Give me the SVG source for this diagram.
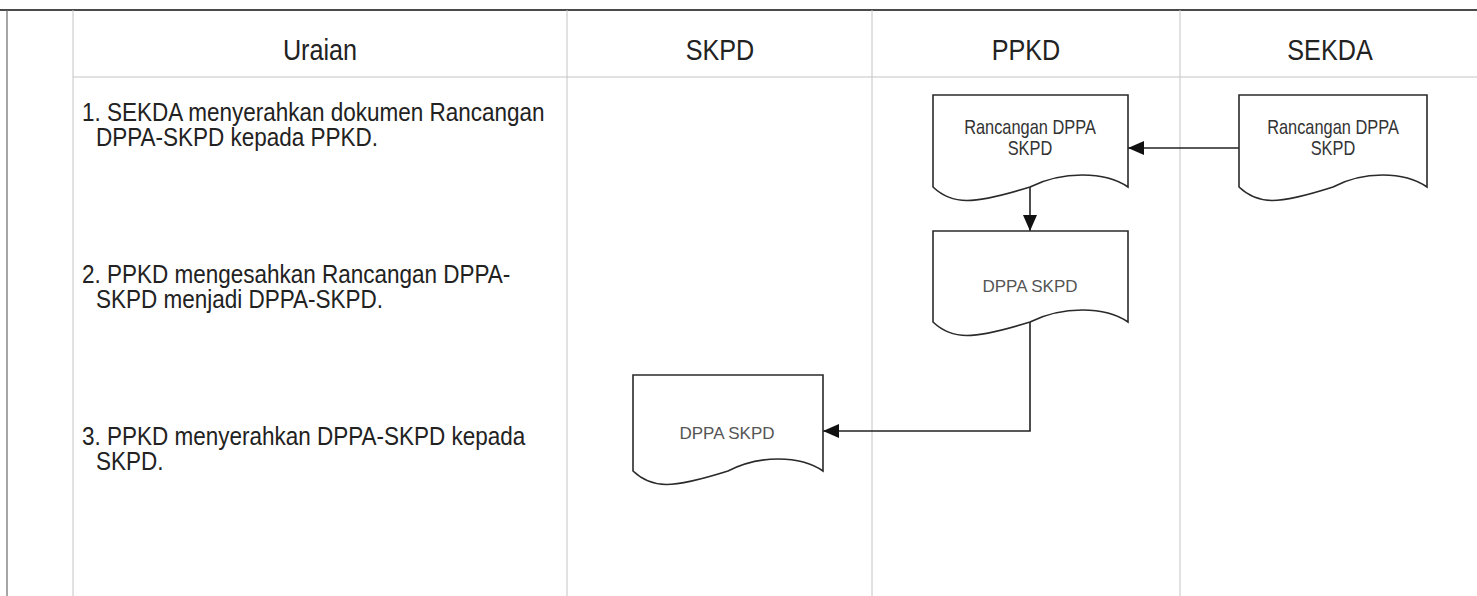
<svg xmlns="http://www.w3.org/2000/svg" width="1477" height="596" viewBox="0 0 1477 596">
<defs>
<style>
.grid{stroke:#c4c4c4;stroke-width:1;fill:none}
.border{stroke:#6a6a6a;stroke-width:1.2;fill:none}
.top{stroke:#4a4a4a;stroke-width:2.2;fill:none}
.hdr{font-family:"Liberation Sans",Arial,sans-serif;font-size:30px;fill:#222;text-anchor:middle}
.step{font-family:"Liberation Sans",Arial,sans-serif;font-size:25px;fill:#222}
.doc{fill:#fff;stroke:#2a2a2a;stroke-width:1.6}
.dt{font-family:"Liberation Sans",Arial,sans-serif;font-size:20px;fill:#333;text-anchor:middle}
.dt2{font-family:"Liberation Sans",Arial,sans-serif;font-size:17px;fill:#555;text-anchor:middle}
.conn{fill:none;stroke:#222;stroke-width:1.6}
</style>
<marker id="arr" markerUnits="userSpaceOnUse" markerWidth="16" markerHeight="14" refX="16" refY="7" orient="auto">
<path d="M0,0 L16,7 L0,14 z" fill="#111"/>
</marker>
</defs>
<rect width="1477" height="596" fill="#fff"/>
<g id="table">
<line class="top" x1="0" y1="10" x2="1477" y2="10"/>
<line class="border" x1="7" y1="10" x2="7" y2="596"/>
<line class="grid" x1="73" y1="10" x2="73" y2="596"/>
<line class="grid" x1="567" y1="10" x2="567" y2="596"/>
<line class="grid" x1="872" y1="10" x2="872" y2="596"/>
<line class="grid" x1="1180" y1="10" x2="1180" y2="596"/>
<line class="grid" x1="73" y1="77" x2="1477" y2="77"/>
<text class="hdr" transform="matrix(0.84 0 0 1 320 60)">Uraian</text>
<text class="hdr" transform="matrix(0.84 0 0 1 720 60)">SKPD</text>
<text class="hdr" transform="matrix(0.84 0 0 1 1026 60)">PPKD</text>
<text class="hdr" transform="matrix(0.84 0 0 1 1330 60)">SEKDA</text>
</g>
<g id="steps">
<text class="step" transform="matrix(0.9 0 0 1 82 121)">1. SEKDA menyerahkan dokumen Rancangan</text>
<text class="step" transform="matrix(0.9 0 0 1 96 146)">DPPA-SKPD kepada PPKD.</text>
<text class="step" transform="matrix(0.9 0 0 1 82 283)">2. PPKD mengesahkan Rancangan DPPA-</text>
<text class="step" transform="matrix(0.9 0 0 1 96 308)">SKPD menjadi DPPA-SKPD.</text>
<text class="step" transform="matrix(0.9 0 0 1 82 445)">3. PPKD menyerahkan DPPA-SKPD kepada</text>
<text class="step" transform="matrix(0.9 0 0 1 96 470)">SKPD.</text>
</g>
<g id="connectors">
<line class="conn" x1="1239" y1="148" x2="1128" y2="148" marker-end="url(#arr)"/>
<line class="conn" x1="1030" y1="187" x2="1030" y2="231" marker-end="url(#arr)"/>
<polyline class="conn" points="1030,322 1030,431 823,431" marker-end="url(#arr)"/>
</g>
<g id="doc-sekda">
<path class="doc" d="M1239,95 H1427 V187 C1404,171 1363,171 1333,187 C1277,205 1258,205 1239,187 Z"/>
<text class="dt" transform="matrix(0.82 0 0 1 1333 134)">Rancangan DPPA</text>
<text class="dt" transform="matrix(0.82 0 0 1 1333 155)">SKPD</text>
</g>
<g id="doc-ppkd-rancangan">
<path class="doc" d="M933,95 H1128 V187 C1105,171 1062,171 1030,187 C972,205 952,205 933,187 Z"/>
<text class="dt" transform="matrix(0.82 0 0 1 1030 134)">Rancangan DPPA</text>
<text class="dt" transform="matrix(0.82 0 0 1 1030 155)">SKPD</text>
</g>
<g id="doc-ppkd-dppa">
<path class="doc" d="M933,231 H1128 V322 C1105,306 1062,306 1030,322 C972,340 952,340 933,322 Z"/>
<text class="dt2" x="1030" y="292">DPPA SKPD</text>
</g>
<g id="doc-skpd-dppa">
<path class="doc" d="M633,375 H823 V471 C800,455 759,455 728,471 C671,489 652,489 633,471 Z"/>
<text class="dt2" x="727" y="439">DPPA SKPD</text>
</g>
</svg>
